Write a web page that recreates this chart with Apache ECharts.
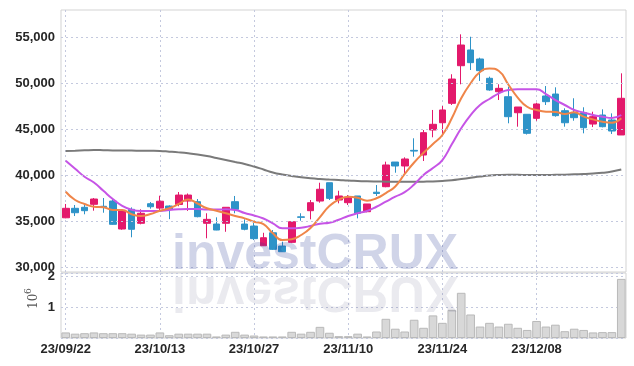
<!DOCTYPE html>
<html><head><meta charset="utf-8">
<script src="https://cdn.jsdelivr.net/npm/echarts@6/dist/echarts.min.js"></script>
<style>html,body{margin:0;padding:0;background:#fff}#c{width:634px;height:366px}</style>
</head><body><div id="c"></div>
<script>
const dates = ['23/09/22','23/09/25','23/09/26','23/09/27','23/10/04','23/10/05','23/10/06','23/10/10','23/10/11','23/10/12',
'23/10/13','23/10/16','23/10/17','23/10/18','23/10/19','23/10/20','23/10/23','23/10/24','23/10/25','23/10/26',
'23/10/27','23/10/30','23/10/31','23/11/01','23/11/02','23/11/03','23/11/06','23/11/07','23/11/08','23/11/09',
'23/11/10','23/11/13','23/11/14','23/11/15','23/11/16','23/11/17','23/11/20','23/11/21','23/11/22','23/11/23',
'23/11/24','23/11/27','23/11/28','23/11/29','23/11/30','23/12/01','23/12/04','23/12/05','23/12/06','23/12/07',
'23/12/08','23/12/11','23/12/12','23/12/13','23/12/14','23/12/15','23/12/18','23/12/19','23/12/20','23/12/21'];

const openP = [35350,36380,36490,36815,36600,37170,34130,36270,34750,36880,
36400,36630,36800,37170,37100,34750,34670,34750,37100,34670,
34450,32310,33720,32280,32680,35450,36120,37170,39160,37280,
36990,37720,36010,38130,38730,41410,40980,42680,42170,44890,
45680,47790,51880,53590,52610,50510,49050,48510,46770,46600,
46160,48590,48800,46990,46770,46770,45540,46520,45980,44350];
const closeP = [36380,35900,36120,37390,36550,34640,36090,34100,35840,36550,
37150,36270,37820,37820,35470,35180,34020,36490,36270,34100,
33080,33180,31920,31660,34920,35400,36990,38450,37460,37720,
37550,35840,36850,37990,41090,40980,41740,42600,44600,45510,
47070,50430,54130,52210,51340,49240,49420,46340,47390,44530,
47720,47970,46450,45680,46230,45140,46340,45250,44780,48340];
const lowP = [35300,35540,35730,36120,35900,34600,34050,33230,34640,36340,
36200,35200,36600,36100,35400,33120,34000,33830,35840,33990,
32930,32280,31850,31660,32600,35030,35180,36990,37280,36920,
36740,35290,35950,37720,38670,40250,40000,41990,41520,44100,
44350,47610,49860,51410,50220,49160,48150,45620,45250,44400,
45900,47610,46340,45250,45900,44530,45210,45180,44460,44350];
const highP = [36850,36740,36770,37500,37500,37390,36300,36480,36270,37060,
37750,36700,38150,37990,37390,35840,35400,36490,37720,35180,
34800,33720,34020,32750,34920,35840,37280,39160,39160,38290,
37820,37720,36850,38910,41450,41410,41920,43990,44890,47070,
47500,50950,55290,55030,52750,50690,49860,49600,47390,46600,
47860,49670,49530,47250,48340,47360,46880,47140,46700,51050];

const ma5 = [38180,37280,36850,36550,36490,36200,36200,35730,35540,35760,
36120,36380,36850,37340,36900,36380,36120,35840,35540,35290,
34920,34670,33660,32930,33010,33480,34240,35430,36630,37330,
37640,37520,37210,37470,38040,38750,40110,41360,42420,43370,
44350,46160,48340,49970,51200,51580,51300,49840,48420,47420,
47070,46880,46850,46630,46820,46340,46050,45790,45680,46160];
const ma20 = [41550,40680,39810,39180,38280,37390,36650,36230,36090,36090,
36090,36200,36270,36300,36300,36250,36250,36270,36200,35870,
35600,35270,34750,34210,34210,34270,34460,34710,34810,35140,
35540,35840,36090,36550,37100,37640,38130,38970,40000,40760,
41630,43340,45080,46520,47610,48260,48880,49240,49320,49320,
49320,48800,48150,47610,47070,46790,46520,46340,46200,46520];
const ma120 = [42610,42640,42680,42720,42700,42670,42660,42650,42640,42630,
42610,42540,42460,42360,42230,42060,41850,41630,41410,41200,
40920,40600,40270,40050,39890,39750,39640,39560,39500,39450,
39390,39350,39310,39290,39280,39270,39270,39270,39280,39300,
39350,39430,39560,39700,39840,39950,40000,40020,40020,40000,
40000,40000,40020,40040,40080,40110,40160,40240,40380,40600];

const volume = [180000,140000,155000,180000,155000,155000,155000,140000,110000,110000,
180000,90000,140000,140000,140000,140000,50000,110000,200000,110000,
80000,50000,50000,50000,200000,140000,200000,360000,170000,60000,
60000,140000,50000,210000,620000,300000,210000,590000,330000,730000,
490000,910000,1460000,760000,370000,490000,370000,460000,330000,260000,
550000,370000,430000,220000,300000,260000,180000,190000,190000,1910000];

const priceTicks = [30000,35000,40000,45000,50000,55000];
const volTicks = [1000000,2000000];

const RED = '#e3196b', BLUE = '#2e93c8';
const labelFont = '"Liberation Sans", Arial, sans-serif';
const labelStyle = {color:'#262626', fontSize:13, fontWeight:'bold', fontFamily:labelFont};
const gridDash = {color:'#c4c9de', type:[2,3], width:1};

const candleData = dates.map((d,i)=>[openP[i], closeP[i], lowP[i], highP[i]]);

const chart = echarts.init(document.getElementById('c'), null, {renderer:'canvas'});
chart.setOption({
  animation:false,
  backgroundColor:'#ffffff',
  grid:[
    {left:61, right:8, top:10, height:262, show:true, borderColor:'#d3d3d3', borderWidth:1},
    {left:61, right:8, top:273, height:65, show:true, borderColor:'#d3d3d3', borderWidth:1}
  ],
  xAxis:[
    {type:'category', gridIndex:0, data:dates, boundaryGap:true,
     axisLine:{show:false}, axisTick:{show:false}, axisLabel:{show:false},
     splitLine:{show:true, interval:9, alignWithLabel:true, lineStyle:gridDash}},
    {type:'category', gridIndex:1, data:dates, boundaryGap:true,
     axisLine:{show:false}, axisTick:{show:false},
     axisLabel:Object.assign({show:true, interval:9, margin:5}, labelStyle),
     splitLine:{show:true, interval:9, alignWithLabel:true, lineStyle:gridDash}}
  ],
  yAxis:[
    {type:'value', gridIndex:0, min:29457, max:57935, scale:true,
     axisLine:{show:false}, axisTick:{show:false}, splitLine:{show:false},
     axisLabel:Object.assign({show:true, customValues:priceTicks, margin:6,
       formatter:v=>Math.round(v).toLocaleString('en-US')}, labelStyle)},
    {type:'value', gridIndex:1, min:0, max:2100000, interval:1000000,
     axisLine:{show:false}, axisTick:{show:false},
     splitLine:{show:true, lineStyle:gridDash},
     axisLabel:Object.assign({show:true, customValues:volTicks, margin:6,
       formatter:v=>String(Math.round(v/1e6))}, labelStyle)}
  ],
  series:[
    {type:'line', xAxisIndex:0, yAxisIndex:0, data:dates.map(()=>null), z:1, silent:true,
     markLine:{silent:true, symbol:'none', label:{show:false}, lineStyle:gridDash,
       data:priceTicks.map(v=>({yAxis:v}))}},
    {type:'candlestick', xAxisIndex:0, yAxisIndex:0, data:candleData, barWidth:'76%',
     itemStyle:{color:RED, color0:BLUE, borderColor:RED, borderColor0:BLUE, borderWidth:1}},
    {type:'line', xAxisIndex:0, yAxisIndex:0, data:ma120, smooth:true, symbol:'none',
     lineStyle:{color:'#7a7a7a', width:2}},
    {type:'line', xAxisIndex:0, yAxisIndex:0, data:ma20, smooth:true, symbol:'none',
     lineStyle:{color:'#c654e6', width:2}},
    {type:'line', xAxisIndex:0, yAxisIndex:0, data:ma5, smooth:true, symbol:'none',
     lineStyle:{color:'#ef8549', width:2}},
    {type:'bar', xAxisIndex:1, yAxisIndex:1, data:volume, barCategoryGap:'8%',
     itemStyle:{color:'#d8d8d8', borderColor:'#b9b9b9', borderWidth:1}}
  ],
  graphic:[
    {type:'text', x:172, y:255, z:100, silent:true,
     style:{text:'investCRUX', font:'bold 50px "Liberation Sans"', fill:'rgba(40,60,150,0.22)', verticalAlign:'middle'}},
    {type:'text', x:172, y:291, scaleY:-1, z:100, silent:true,
     style:{text:'investCRUX', font:'bold 50px "Liberation Sans"', fill:'rgba(80,80,120,0.12)', verticalAlign:'middle'}},
    {type:'group', x:34, y:302, rotation:Math.PI/2, silent:true, children:[
      {type:'text', x:-7, y:0, style:{text:'10', font:'12px "DejaVu Serif"', fill:'#555', verticalAlign:'middle', align:'left'}},
      {type:'text', x:8, y:-5, style:{text:'6', font:'9px "DejaVu Serif"', fill:'#555', verticalAlign:'middle', align:'left'}}
    ]}
  ]
});
</script></body></html>
